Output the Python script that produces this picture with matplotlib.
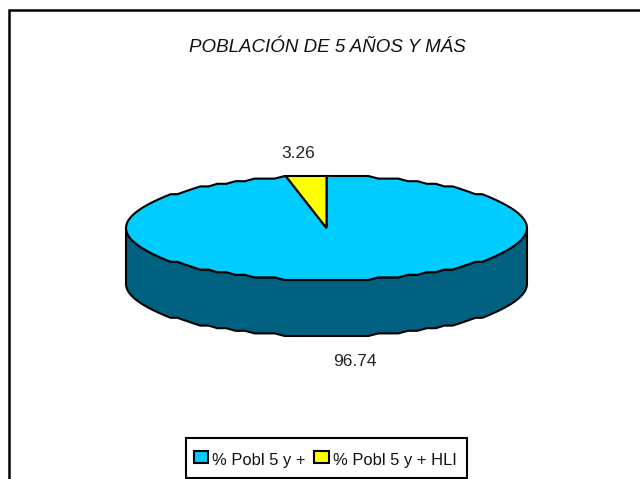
#!/usr/bin/env python3
"""Pseudo-3D pie: poblacion de 5 anos y mas."""

import numpy as np
import matplotlib

matplotlib.use("Agg")
import matplotlib.pyplot as plt
from matplotlib.patches import Polygon, Rectangle

LABELS = ["% Pobl 5 y +", "% Pobl 5 y + HLI"]
VALUES = [96.74, 3.26]
COLORS = ["#00ccff", "#ffff00"]
SIDE_COLOR = "#006080"
TITLE = "POBLACIÓN DE 5 AÑOS Y MÁS"

CX, CY = 326.5, 228
RX, RY = 200.5, 52
DEPTH = 56
FONT = "Liberation Sans"


def rim(a0, a1):
    # angles clockwise from 12 o'clock, in degrees; same coarse grid for wall and top
    inner = np.arange(np.ceil(a0 / 3) * 3, a1, 3.0)
    t = np.radians(np.unique(np.r_[a0, inner, a1]))
    x = CX + RX * np.sin(t)
    y = CY - RY * np.cos(t)
    return x, np.round((y - CY) / 2.6) * 2.6 + CY


fig = plt.figure(figsize=(6.4, 4.79), dpi=100)
ax = fig.add_axes([0, 0, 1, 1])
ax.set_xlim(0, 640)
ax.set_ylim(479, 0)
ax.axis("off")

# chart frame, only the left and top edges are inside the picture
ax.plot([8.7, 8.7, 640], [479, 10, 10], color="black", lw=1.8, solid_joinstyle="miter")

# side wall
x, y = rim(90, 270)
ax.add_patch(Polygon(np.r_[np.c_[x, y], np.c_[x[::-1], y[::-1] + DEPTH]],
                     fc=SIDE_COLOR, ec="black", lw=1.5))

# top slices, the small one ends at 12 o'clock
hli = VALUES[1] / sum(VALUES) * 360
x, y = rim(0, 360 - hli)
ax.add_patch(Polygon(np.r_[[[CX, CY]], np.c_[x, y]], fc=COLORS[0], ec="black", lw=1.5))
x, y = rim(360 - hli, 360)
ax.add_patch(Polygon(np.r_[[[CX, CY]], np.c_[x, y]], fc=COLORS[1], ec="black", lw=1.5))

ax.text(327.5, 47, TITLE, ha="center", va="center", fontsize=13.5, style="italic",
        family=FONT, color="#111111")
ax.text(298.5, 154, f"{VALUES[1]:.2f}", ha="center", va="center", fontsize=12.5,
        family=FONT, color="#222222")
ax.text(355, 362, f"{VALUES[0]:.2f}", ha="center", va="center", fontsize=12.5,
        family=FONT, color="#222222")

# legend box
ax.add_patch(Rectangle((186, 438), 281, 40, fc="white", ec="black", lw=1.5, zorder=3))
for lx, lw_, tx, lab, col in zip([194, 313.5], [14, 15.5], [212, 333], LABELS, COLORS):
    ax.add_patch(Rectangle((lx, 450.5), lw_, 12, fc=col, ec="black", lw=1.5, zorder=4))
    ax.text(tx, 460, lab, ha="left", va="center", fontsize=11.9,
            family=FONT, color="#111111", zorder=4)

fig.savefig("out.png", dpi=100)
